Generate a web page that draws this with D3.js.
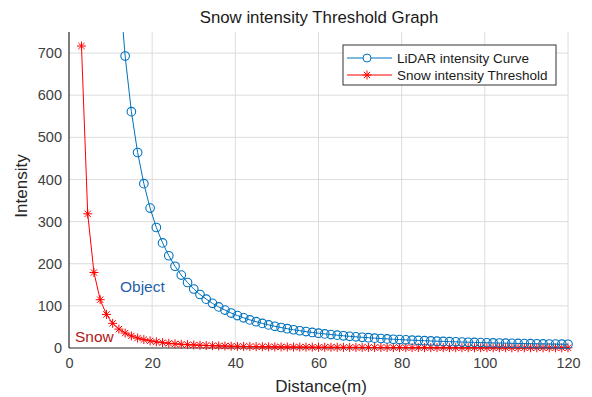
<!DOCTYPE html>
<html>
<head>
<meta charset="utf-8">
<script src="https://cdn.jsdelivr.net/npm/d3@7"></script>
<style>
  body { margin: 0; background: #fff; }
  svg { font-family: "Liberation Sans", Arial, sans-serif; }
</style>
</head>
<body>
<div id="chart"></div>
<script>
// distance in metres, sampled every 1.5 m
const distance = [3, 4.5, 6, 7.5, 9, 10.5, 12, 13.5, 15, 16.5, 18, 19.5, 21, 22.5, 24, 25.5, 27, 28.5, 30,
  31.5, 33, 34.5, 36, 37.5, 39, 40.5, 42, 43.5, 45, 46.5, 48, 49.5, 51, 52.5, 54, 55.5, 57, 58.5, 60,
  61.5, 63, 64.5, 66, 67.5, 69, 70.5, 72, 73.5, 75, 76.5, 78, 79.5, 81, 82.5, 84, 85.5, 87, 88.5, 90,
  91.5, 93, 94.5, 96, 97.5, 99, 100.5, 102, 103.5, 105, 106.5, 108, 109.5, 111, 112.5, 114, 115.5, 117, 118.5, 120]

const lidarCurve = [14030, 6237, 3508, 2245, 1559, 1146, 877, 693, 561, 464, 390, 332, 286, 249.5, 219, 194, 173, 155.5, 140,
  127, 116, 106, 97.5, 90, 83, 77, 71.6, 66.7, 62.4, 58.4, 54.8, 51.5, 48.6, 45.8, 43.3, 41, 38.9, 36.9, 35.1,
  33.4, 31.8, 30.4, 29, 27.7, 26.5, 25.4, 24.4, 23.4, 22.5, 21.6, 20.8, 20, 19.3, 18.6, 17.9, 17.3, 16.7, 16.1, 15.6,
  15.1, 14.6, 14.1, 13.7, 13.3, 12.9, 12.5, 12.1, 11.8, 11.5, 11.1, 10.8, 10.5, 10.3, 10, 9.7, 9.5, 9.2, 9, 8.8]

const snowThreshold = [716.7, 318.5, 179.2, 114.7, 79.6, 58.5, 44.8, 35.4, 28.7, 23.7, 19.9, 17, 14.6, 12.7, 11.2, 9.9, 8.8, 7.9, 7.2,
  6.5, 5.9, 5.4, 5, 4.6, 4.2, 3.9, 3.7, 3.4, 3.2, 3, 2.8, 2.6, 2.5, 2.3, 2.2, 2.1, 2, 1.9, 1.8,
  1.7, 1.6, 1.55, 1.48, 1.42, 1.35, 1.3, 1.24, 1.19, 1.15, 1.1, 1.06, 1.02, 0.98, 0.95, 0.91, 0.88, 0.85, 0.82, 0.8,
  0.77, 0.75, 0.72, 0.7, 0.68, 0.66, 0.64, 0.62, 0.6, 0.59, 0.57, 0.55, 0.54, 0.52, 0.51, 0.5, 0.48, 0.47, 0.46, 0.45]

const xTicks = [0, 20, 40, 60, 80, 100, 120]
const yTicks = [0, 100, 200, 300, 400, 500, 600, 700]
const seriesNames = ["LiDAR intensity Curve", "Snow intensity Threshold"]

const width = 592
const height = 397
const margin = {top: 32, right: 24, bottom: 49, left: 69}
const blue = "#0072BD"
const red = "#ff0000"

const svg = d3.select("#chart")
  .append("svg")
    .attr("width", width)
    .attr("height", height)

const x = d3.scaleLinear()
  .domain([0, 120])
  .range([margin.left, width - margin.right])

const y = d3.scaleLinear()
  .domain([0, 750])
  .range([height - margin.bottom, margin.top])

svg.append("defs").append("clipPath")
    .attr("id", "plotclip")
  .append("rect")
    .attr("x", margin.left - 6)
    .attr("y", margin.top)
    .attr("width", width - margin.left - margin.right + 12)
    .attr("height", height - margin.top - margin.bottom + 6)

// grid
svg.append("g")
  .selectAll("line")
  .data(xTicks.slice(1))
  .join("line")
    .attr("x1", d => x(d)).attr("x2", d => x(d))
    .attr("y1", y(750)).attr("y2", y(0))
    .attr("stroke", "#dcdcdc")

svg.append("g")
  .selectAll("line")
  .data(yTicks.slice(1))
  .join("line")
    .attr("x1", x(0)).attr("x2", x(120))
    .attr("y1", d => y(d)).attr("y2", d => y(d))
    .attr("stroke", "#dcdcdc")

// axes
const xAxis = svg.append("g")
  .attr("transform", `translate(0,${y(0)})`)
  .call(d3.axisBottom(x).tickValues(xTicks).tickSize(0).tickPadding(10))
const yAxis = svg.append("g")
  .attr("transform", `translate(${x(0)},0)`)
  .call(d3.axisLeft(y).tickValues(yTicks).tickSize(0).tickPadding(7))

for (const ax of [xAxis, yAxis]) {
  ax.select(".domain").attr("stroke", "#262626").attr("stroke-width", 1.2)
  ax.selectAll("text")
    .attr("font-family", "Liberation Sans, Arial, sans-serif")
    .attr("font-size", 14.5)
    .attr("fill", "#404040")
}
yAxis.select(".domain").attr("d", `M0,${y(0)}V${y(750)}`)
xAxis.select(".domain").attr("d", `M0,0H${x(120) - x(0)}`).attr("transform", `translate(${x(0)},0)`)

svg.append("text")
  .attr("x", 319)
  .attr("y", 23)
  .attr("text-anchor", "middle")
  .attr("font-size", 16.8)
  .attr("fill", "#1a1a1a")
  .text("Snow intensity Threshold Graph")

svg.append("text")
  .attr("x", 321)
  .attr("y", 392)
  .attr("text-anchor", "middle")
  .attr("font-size", 17)
  .attr("fill", "#262626")
  .text("Distance(m)")

svg.append("text")
  .attr("transform", `translate(27,186) rotate(-90)`)
  .attr("text-anchor", "middle")
  .attr("font-size", 17)
  .attr("fill", "#262626")
  .text("Intensity")

// series
const lidarData = distance.map((d, i) => ({x: d, y: lidarCurve[i]}))
const snowData = distance.map((d, i) => ({x: d, y: snowThreshold[i]}))

const line = d3.line().x(d => x(d.x)).y(d => y(d.y))
const plot = svg.append("g").attr("clip-path", "url(#plotclip)")

function asterisk(g, s) {
  g.append("path")
    .attr("d", `M${-s},0H${s}M0,${-s}V${s}M${-s * 0.7},${-s * 0.7}L${s * 0.7},${s * 0.7}M${-s * 0.7},${s * 0.7}L${s * 0.7},${-s * 0.7}`)
    .attr("stroke", red)
    .attr("stroke-width", 1)
    .attr("fill", "none")
}

plot.append("path")
  .datum(snowData)
  .attr("d", line)
  .attr("fill", "none")
  .attr("stroke", red)
  .attr("stroke-width", 1)

plot.append("g")
  .selectAll("g")
  .data(snowData.filter(d => d.y <= 760))
  .join("g")
    .attr("transform", d => `translate(${x(d.x)},${y(d.y)})`)
    .each(function() { asterisk(d3.select(this), 4.5) })

plot.append("path")
  .datum(lidarData)
  .attr("d", line)
  .attr("fill", "none")
  .attr("stroke", blue)
  .attr("stroke-width", 1)

plot.append("g")
  .selectAll("circle")
  .data(lidarData.filter(d => d.y <= 760))
  .join("circle")
    .attr("cx", d => x(d.x))
    .attr("cy", d => y(d.y))
    .attr("r", 4.3)
    .attr("fill", "none")
    .attr("stroke", blue)
    .attr("stroke-width", 1.1)

// annotations
svg.append("text")
  .attr("x", 120).attr("y", 292)
  .attr("font-size", 15.5)
  .attr("fill", "#1f5fa8")
  .text("Object")

svg.append("text")
  .attr("x", 75).attr("y", 342)
  .attr("font-size", 15.5)
  .attr("fill", "#b01818")
  .text("Snow")

// legend
const legend = svg.append("g").attr("transform", "translate(343,45)")
legend.append("rect")
  .attr("width", 213).attr("height", 40)
  .attr("fill", "#fff")
  .attr("stroke", "#333")
  .attr("stroke-width", 1)

const rows = legend.selectAll("g.row")
  .data(seriesNames)
  .join("g")
    .attr("class", "row")
    .attr("transform", (d, i) => `translate(0,${13 + i * 17})`)

rows.append("line")
  .attr("x1", 4).attr("x2", 49)
  .attr("stroke", (d, i) => i === 0 ? blue : red)

rows.filter((d, i) => i === 0).append("circle")
  .attr("cx", 24).attr("r", 4)
  .attr("fill", "#fff").attr("stroke", blue)

rows.filter((d, i) => i === 1).append("g")
  .attr("transform", "translate(24,0)")
  .each(function() { asterisk(d3.select(this), 4.5) })

rows.append("text")
  .attr("x", 54)
  .attr("dy", "0.35em")
  .attr("font-size", 13.5)
  .attr("fill", "#1a1a1a")
  .text(d => d)
</script>
</body>
</html>
